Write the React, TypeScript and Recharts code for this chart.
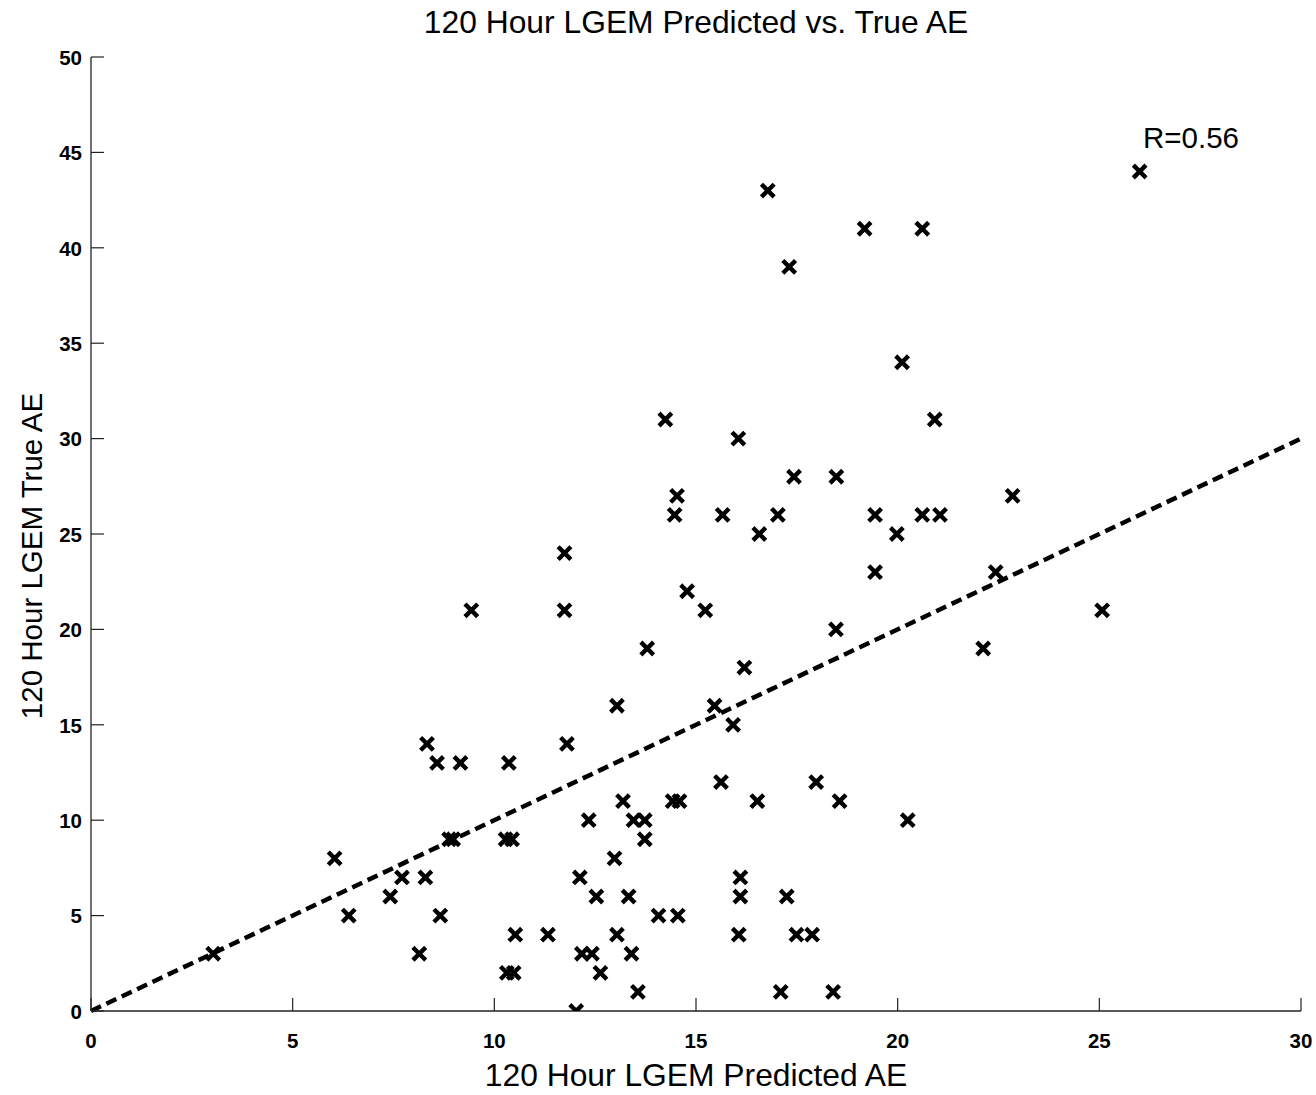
import React from 'react'
import {
    ScatterChart,
    Scatter,
    XAxis,
    YAxis,
    ReferenceLine,
    ReferenceDot,
    Label,
} from 'recharts'

// LGEM predicted AE (x) and true AE (y)
const predicted = [
    3.03, 6.04, 6.39, 7.42, 7.71, 8.14, 8.29, 8.33, 8.58, 8.66, 8.88, 8.98, 9.16, 9.43,
    10.28, 10.31, 10.36, 10.44, 10.48, 10.52, 11.33, 11.74, 11.74, 11.8, 12.03, 12.12,
    12.17, 12.34, 12.42, 12.53, 12.63, 12.98, 13.04, 13.04, 13.19, 13.33, 13.4, 13.45,
    13.56, 13.73, 13.73, 13.79, 14.07, 14.24, 14.42, 14.47, 14.53, 14.55, 14.59, 14.78,
    15.23, 15.46, 15.62, 15.66, 15.92, 16.05, 16.06, 16.1, 16.1, 16.2, 16.52, 16.57,
    16.78, 17.03, 17.1, 17.25, 17.31, 17.43, 17.49, 17.88, 17.98, 18.4, 18.48, 18.47,
    18.56, 19.18, 19.44, 19.44, 19.98, 20.11, 20.25, 20.61, 20.61, 20.92, 21.05, 22.12,
    22.43, 22.85, 25.07, 26.0,
]
const trueAE = [
    3, 8, 5, 6, 7, 3, 7, 14, 13, 5, 9, 9, 13, 21,
    9, 2, 13, 9, 2, 4, 4, 24, 21, 14, 0, 7,
    3, 10, 3, 6, 2, 8, 16, 4, 11, 6, 3, 10,
    1, 10, 9, 19, 5, 31, 11, 26, 27, 5, 11, 22,
    21, 16, 12, 26, 15, 30, 4, 7, 6, 18, 11, 25,
    43, 26, 1, 6, 39, 28, 4, 4, 12, 1, 28, 20,
    11, 41, 26, 23, 25, 34, 10, 41, 26, 31, 26, 19,
    23, 27, 21, 44,
]

const xTicks = [0, 5, 10, 15, 20, 25, 30]
const yTicks = [0, 5, 10, 15, 20, 25, 30, 35, 40, 45, 50]

// 1:1 reference line and the correlation note
const fitLine = [
    { x: 0, y: 0 },
    { x: 30, y: 30 },
]
const rNote = { x: 25.96, y: 45.8, text: 'R=0.56' }

const points = predicted.map((x, i) => ({ x, y: trueAE[i] }))

const FONT = '"Liberation Sans", Arial, Helvetica, sans-serif'
const AXIS_COLOR = '#222'
const TICK_LEN = 13
const X_MARGIN = 22
const Y_MARGIN = 9

function Cross(props: any) {
    const { cx, cy } = props
    if (cx == null || cy == null) return null
    const h = 4.8
    return (
        <path
            d={`M${cx - h},${cy - h}L${cx + h},${cy + h}M${cx + h},${cy - h}L${cx - h},${cy + h}`}
            stroke="#000"
            strokeWidth={4.4}
            strokeLinecap="square"
            fill="none"
        />
    )
}

function XTick(props: any) {
    const { x, y, payload } = props
    const axisY = y - X_MARGIN
    return (
        <g>
            <line x1={x} x2={x} y1={axisY} y2={axisY - TICK_LEN} stroke={AXIS_COLOR} strokeWidth={1.2} />
            <text x={x} y={y} dy="0.72em" textAnchor="middle" fontFamily={FONT} fontSize={20.5} fontWeight="bold" fill="#000">
                {payload.value}
            </text>
        </g>
    )
}

function YTick(props: any) {
    const { x, y, payload } = props
    const axisX = x + Y_MARGIN
    return (
        <g>
            <line x1={axisX} x2={axisX + TICK_LEN} y1={y} y2={y} stroke={AXIS_COLOR} strokeWidth={1.2} />
            <text x={x} y={y} dy="0.38em" textAnchor="end" fontFamily={FONT} fontSize={20.5} fontWeight="bold" fill="#000">
                {payload.value}
            </text>
        </g>
    )
}

function YTitle(props: any) {
    const { viewBox } = props
    const cx = viewBox.x + 31
    const cy = viewBox.y + viewBox.height / 2 + 22
    return (
        <text
            x={cx}
            y={cy}
            transform={`rotate(-90 ${cx} ${cy})`}
            textAnchor="middle"
            dominantBaseline="central"
            fontFamily={FONT}
            fontSize={29.5}
            fill="#000"
        >
            120 Hour LGEM True AE
        </text>
    )
}

export default function App() {
    return (
        <div style={{ position: 'absolute', left: 0, top: 0, width: 1316, height: 1095, background: '#fff' }}>
            <div
                style={{
                    position: 'absolute',
                    left: 91,
                    top: 6,
                    width: 1210,
                    textAlign: 'center',
                    fontFamily: FONT,
                    fontSize: 31.8,
                    lineHeight: '32px',
                    color: '#000',
                }}
            >
                120 Hour LGEM Predicted vs. True AE
            </div>
            <ScatterChart width={1316} height={1095} margin={{ top: 57, right: 15, left: 0, bottom: 0 }}>
                <XAxis
                    type="number"
                    dataKey="x"
                    domain={[0, 30]}
                    ticks={xTicks}
                    interval={0}
                    allowDataOverflow
                    height={84}
                    tickSize={0}
                    tickMargin={X_MARGIN}
                    tickLine={false}
                    tick={<XTick />}
                    axisLine={{ stroke: AXIS_COLOR, strokeWidth: 1.3 }}
                >
                    <Label
                        value="120 Hour LGEM Predicted AE"
                        position="insideBottom"
                        offset={9}
                        style={{ fontFamily: FONT, fontSize: 31.8, fill: '#000' }}
                    />
                </XAxis>
                <YAxis
                    type="number"
                    dataKey="y"
                    domain={[0, 50]}
                    ticks={yTicks}
                    interval={0}
                    allowDataOverflow
                    width={91}
                    tickSize={0}
                    tickMargin={Y_MARGIN}
                    tickLine={false}
                    tick={<YTick />}
                    axisLine={{ stroke: AXIS_COLOR, strokeWidth: 1.3 }}
                    label={<YTitle />}
                />
                <ReferenceLine
                    segment={fitLine}
                    stroke="#000"
                    strokeWidth={4.5}
                    strokeDasharray="11 6"
                    ifOverflow="visible"
                />
                <Scatter data={points} shape={<Cross />} isAnimationActive={false} />
                <ReferenceDot
                    x={rNote.x}
                    y={rNote.y}
                    r={0}
                    stroke="none"
                    fill="none"
                    ifOverflow="visible"
                    label={{ value: rNote.text, position: 'right', offset: 5, fontFamily: FONT, fontSize: 29.5, fill: '#000' }}
                />
            </ScatterChart>
        </div>
    )
}
